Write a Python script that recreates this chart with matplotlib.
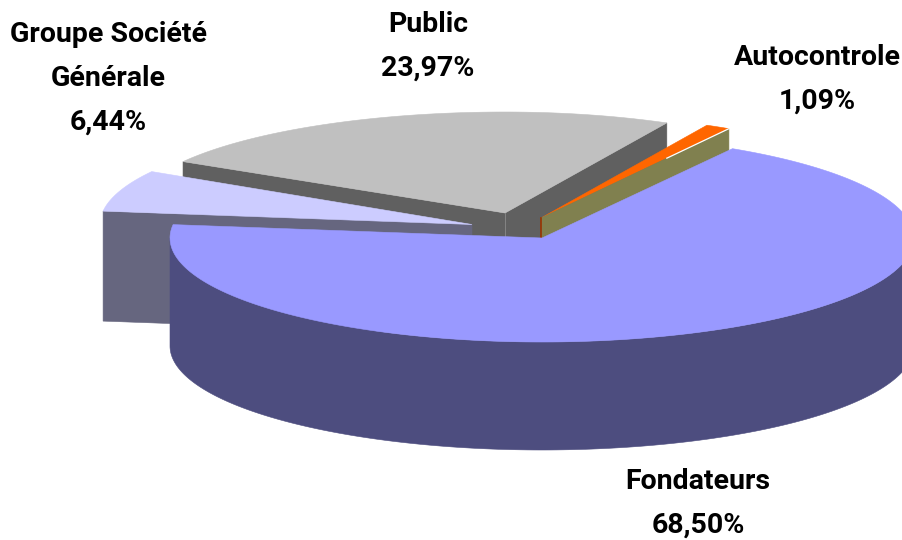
import numpy as np
import matplotlib
matplotlib.use("Agg")
import matplotlib.pyplot as plt
from matplotlib.patches import Polygon

# Data
categories = ["Fondateurs", "Autocontrole", "Public", "Groupe Société\nGénérale"]
shares = [68.50, 1.09, 23.97, 6.44]
value_labels = ["68,50%", "1,09%", "23,97%", "6,44%"]

# Styles
top_colors = ["#9999FF", "#FF6600", "#C0C0C0", "#CCCCFF"]
wall_colors = ["#4D4D7F", "#80804F", "#606060", "#66667F"]
centers = [(542, 238), (541, 218), (505, 213), (472, 224.5)]
depths = [108, 108, 108, 110]
radii = [(372, 372, 104), (372, 367, 104), (374, 358, 101), (372, 372, 104)]  # left rx, right rx, ry
label_pos = [(698, 503), (817, 79.5), (428, 46), (108, 78)]
START = 59.2  # degrees, where the Fondateurs slice begins; slices run clockwise
FONT = "Roboto"
FS = 20.5

fig = plt.figure(figsize=(9.02, 5.40), dpi=100, facecolor="white")
ax = fig.add_axes([0, 0, 1, 1])
ax.set_xlim(0, 902)
ax.set_ylim(540, 0)
ax.axis("off")


def rim(i, a0, a1, n=200):
    c = centers[i]
    rl, rr, ry = radii[i]
    a = np.radians(np.linspace(a0, a1, n))
    ca = np.cos(a)
    return np.column_stack([c[0] + np.where(ca < 0, rl, rr) * ca, c[1] - ry * np.sin(a)])


def poly(pts, color, z):
    ax.add_patch(Polygon(pts, closed=True, facecolor=color, edgecolor=color, lw=0.4, zorder=z))


def cut_wall(i, ang, z):
    c = centers[i]
    e = rim(i, ang, ang, 1)[0]
    d = depths[i]
    poly([c, e, (e[0], e[1] + d), (c[0], c[1] + d)], wall_colors[i], z)


def top(i, a0, a1, z):
    poly(np.vstack([[centers[i]], rim(i, a0, a1, 300)]), top_colors[i], z)


F, A, P, G = 0, 1, 2, 3
spans = np.array(shares) / 100 * 360
f_start = START
f_end = f_start - spans[F]
# clockwise after Fondateurs: Groupe, Public, Autocontrole, back to START
g_start = f_end + 360
g_end = g_start - spans[G]
p_start = g_end
p_end = p_start - spans[P]
a_start = p_end
a_end = a_start - spans[A]

# Public
cut_wall(P, p_end, 1)
cut_wall(P, p_start, 1)
top(P, p_start, p_end, 2)
ax.plot([centers[P][0]] * 2, [centers[P][1], centers[P][1] + depths[P]], color="#8A8A8A", lw=0.6, zorder=2)

# Autocontrole
top(A, a_start, a_end, 3)
cut_wall(A, a_end, 4)
ax.plot([centers[A][0]] * 2, [centers[A][1], centers[A][1] + depths[A]], color="#993300", lw=1.2, zorder=4)
tip = rim(A, a_end, a_end, 1)[0]
pub_x = rim(P, p_end, p_end, 1)[0][0]
t = (pub_x - centers[A][0]) / (tip[0] - centers[A][0])
ax.plot([centers[A][0] + t * (tip[0] - centers[A][0]), tip[0]],
        [centers[A][1] + t * (tip[1] - centers[A][1]), tip[1]], color="white", lw=0.9, zorder=5)

# Groupe Société Générale
cut_wall(G, g_start, 5)
top(G, g_start, g_end, 6)

# Fondateurs
front = rim(F, 180, 360)
poly(np.vstack([front, front[::-1] + [0, depths[F]]]), wall_colors[F], 7)
top(F, f_start, f_end, 8)

# Labels
for name, val, (x, y) in zip(categories, value_labels, label_pos):
    ax.text(x, y, f"{name}\n{val}", ha="center", va="center", family=FONT,
            fontweight="bold", fontsize=FS, color="black", linespacing=1.8, zorder=10)

fig.savefig("out.png", dpi=100, facecolor="white")
